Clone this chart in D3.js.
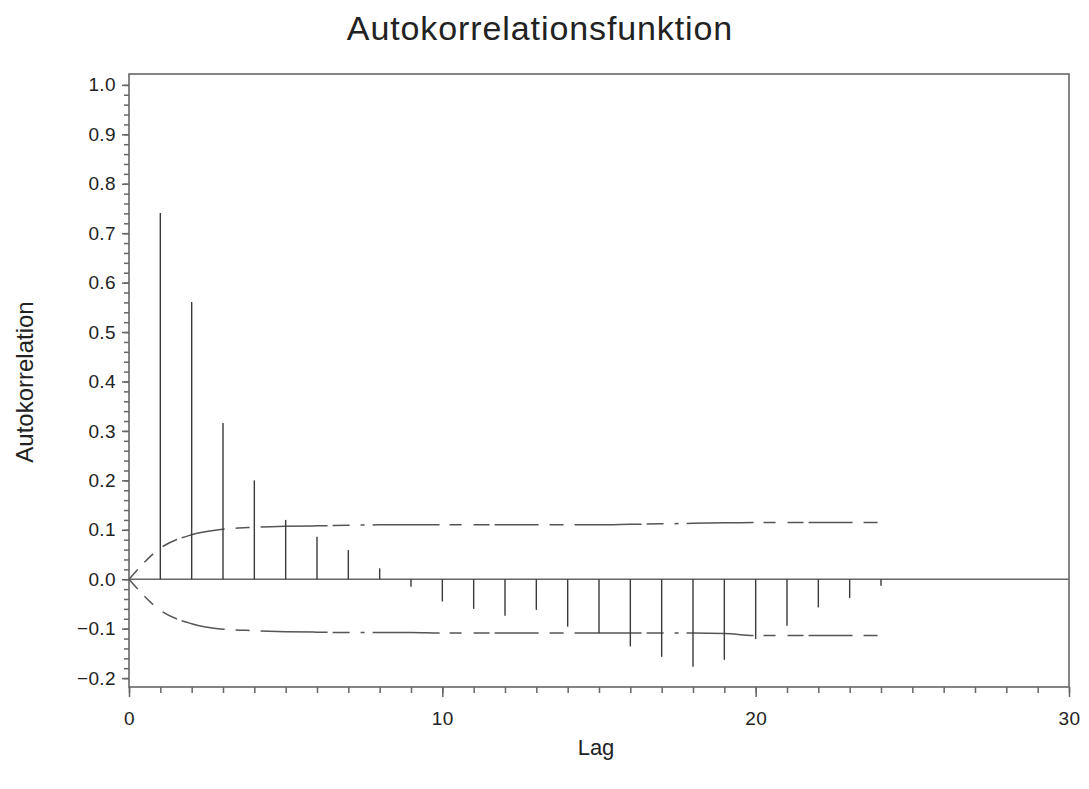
<!DOCTYPE html>
<html>
<head>
<meta charset="utf-8">
<script src="https://cdn.jsdelivr.net/npm/d3@7"></script>
<style>
  html, body { margin: 0; padding: 0; background: #fff; }
  svg { display: block; }
  text { font-family: "Liberation Sans", Arial, Helvetica, sans-serif; fill: #222; }
</style>
</head>
<body>
<svg id="chart" width="1089" height="789"></svg>
<script>
// Sample autocorrelations by lag
const lags = [1, 2, 3, 4, 5, 6, 7, 8, 9, 10, 11, 12, 13, 14, 15, 16, 17, 18, 19, 20, 21, 22, 23, 24];
const acf = [0.741, 0.561, 0.316, 0.200, 0.120, 0.086, 0.059, 0.022, -0.015, -0.045, -0.060, -0.074,
             -0.062, -0.096, -0.109, -0.136, -0.157, -0.177, -0.163, -0.121, -0.094, -0.057, -0.038, -0.013];

// Approximate two standard error bounds, lag 0 .. 24
const bandLags = [0, 1, 2, 3, 4, 5, 6, 7, 8, 9, 10, 11, 12, 13, 14, 15, 16, 17, 18, 19, 20, 21, 22, 23, 24];
const bandUpper = [0, 0.063, 0.090, 0.101, 0.105, 0.107, 0.108, 0.109, 0.110, 0.110, 0.110, 0.110, 0.110,
                   0.110, 0.110, 0.110, 0.111, 0.112, 0.113, 0.114, 0.115, 0.115, 0.115, 0.115, 0.115];
const bandLower = [0, -0.063, -0.090, -0.101, -0.104, -0.106, -0.107, -0.108, -0.108, -0.108, -0.109, -0.109, -0.109,
                   -0.109, -0.109, -0.109, -0.109, -0.109, -0.109, -0.110, -0.114, -0.114, -0.114, -0.114, -0.114];

// Axis ticks
const xMajorTicks = [0, 10, 20, 30];
const xMinorTicks = d3.range(0, 31);
const yMajorTicks = [-0.2, -0.1, 0.0, 0.1, 0.2, 0.3, 0.4, 0.5, 0.6, 0.7, 0.8, 0.9, 1.0];
const yMinorTicks = d3.range(-21, 51).map(i => i * 0.02).filter(v => v >= -0.218 && v <= 1.022);

const titleText = "Autokorrelationsfunktion";
const xLabel = "Lag";
const yLabel = "Autokorrelation";

const plotLeft = 129, plotRight = 1069, plotTop = 74, plotBottom = 687;

const svg = d3.select("#chart");

const x = d3.scaleLinear().domain([0, 30]).range([plotLeft, plotRight]);
const y = d3.scaleLinear().domain([-0.218, 1.022]).range([plotBottom, plotTop]);

const axisColor = "#666";

// Frame
svg.append("rect")
  .attr("x", plotLeft).attr("y", plotTop)
  .attr("width", plotRight - plotLeft).attr("height", plotBottom - plotTop)
  .attr("fill", "none").attr("stroke", axisColor).attr("stroke-width", 1.6);

// Y axis: minor ticks, then major ticks with labels
const yMinor = svg.append("g").attr("transform", `translate(${plotLeft},0)`)
  .call(d3.axisLeft(y).tickValues(yMinorTicks).tickSize(5).tickFormat(""));
const yMajor = svg.append("g").attr("transform", `translate(${plotLeft},0)`)
  .call(d3.axisLeft(y).tickValues(yMajorTicks).tickSize(7).tickPadding(6).tickFormat(d3.format(".1f")));

// X axis
const xMinor = svg.append("g").attr("transform", `translate(0,${plotBottom})`)
  .call(d3.axisBottom(x).tickValues(xMinorTicks).tickSize(6).tickFormat(""));
const xMajor = svg.append("g").attr("transform", `translate(0,${plotBottom})`)
  .call(d3.axisBottom(x).tickValues(xMajorTicks).tickSize(10).tickPadding(15).tickFormat(d3.format("d")));

[yMinor, yMajor, xMinor, xMajor].forEach(g => {
  g.select(".domain").remove();
  g.selectAll(".tick line").attr("stroke", axisColor).attr("stroke-width", 1.5);
  g.selectAll(".tick text")
    .attr("font-family", "Liberation Sans, Arial, sans-serif")
    .attr("font-size", 19).attr("letter-spacing", 0.4).attr("fill", "#333");
});

// Zero reference line
svg.append("line")
  .attr("x1", plotLeft).attr("x2", plotRight)
  .attr("y1", y(0)).attr("y2", y(0))
  .attr("stroke", axisColor).attr("stroke-width", 1.6);

// Confidence bounds (dash-dot pattern)
const dashPattern = "67 10 12 12 16 5 44 11 14 11 67 5 17 11 4 8";
const bandLine = vals => d3.line()
  .x((d, i) => x(bandLags[i]))
  .y(d => y(d))
  .curve(d3.curveMonotoneX)(vals);

[bandUpper, bandLower].forEach(vals => {
  svg.append("path")
    .attr("d", bandLine(vals))
    .attr("fill", "none")
    .attr("stroke", "#555")
    .attr("stroke-width", 1.5)
    .attr("stroke-dasharray", dashPattern)
    .attr("stroke-dashoffset", 54);
});

// Autocorrelation needles
svg.append("g").selectAll("line")
  .data(lags)
  .join("line")
  .attr("x1", d => x(d)).attr("x2", d => x(d))
  .attr("y1", y(0))
  .attr("y2", (d, i) => y(acf[i]))
  .attr("stroke", "#3a3a3a")
  .attr("stroke-width", 1.4);

// Title and axis labels
svg.append("text")
  .attr("x", 540).attr("y", 40)
  .attr("text-anchor", "middle")
  .attr("font-size", 34)
  .attr("letter-spacing", 0.9)
  .text(titleText);

svg.append("text")
  .attr("x", 596).attr("y", 755)
  .attr("text-anchor", "middle")
  .attr("font-size", 22)
  .text(xLabel);

svg.append("text")
  .attr("transform", "translate(33,382) rotate(-90)")
  .attr("text-anchor", "middle")
  .attr("font-size", 24)
  .text(yLabel);
</script>
</body>
</html>
